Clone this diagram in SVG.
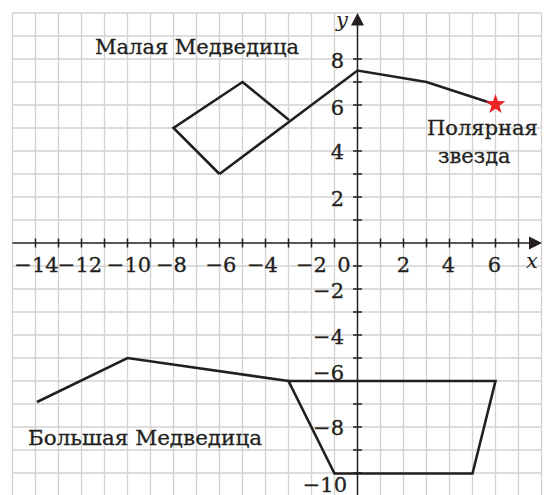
<svg xmlns="http://www.w3.org/2000/svg" width="544" height="495" viewBox="0 0 544 495">
<style>
.grid{stroke:#d2d2d2;stroke-width:1.3;fill:none}
.axis{stroke:#231f20;stroke-width:1.5;fill:none}
.shape{stroke:#231f20;stroke-width:2.6;fill:none;stroke-linejoin:miter;stroke-linecap:butt}
.t,.n,.ny{font-family:"DejaVu Serif","Liberation Serif",serif;font-size:21px;fill:#231f20;stroke:#231f20;stroke-width:0.3}
.n{text-anchor:middle}
.ny{text-anchor:end}
.it{font-family:"DejaVu Serif","Liberation Serif",serif;font-size:21px;font-style:italic;fill:#231f20}
</style>
<rect width="544" height="495" fill="#ffffff"/>
<g id="grid">
<path class="grid" d="M12.5,13V495M35.5,13V495M58.5,13V495M81.5,13V495M104.5,13V495M127.5,13V495M150.5,13V495M173.5,13V495M196.5,13V495M219.5,13V495M242.5,13V495M265.5,13V495M288.5,13V495M311.5,13V495M334.5,13V495M380.5,13V495M403.5,13V495M426.5,13V495M449.5,13V495M472.5,13V495M495.5,13V495M518.5,13V495M541.5,13V495"/>
<path class="grid" d="M12.5,13H541.5M12.5,36H541.5M12.5,59H541.5M12.5,82H541.5M12.5,105H541.5M12.5,128H541.5M12.5,151H541.5M12.5,174H541.5M12.5,197H541.5M12.5,220H541.5M12.5,266H541.5M12.5,289H541.5M12.5,312H541.5M12.5,335H541.5M12.5,358H541.5M12.5,381H541.5M12.5,404H541.5M12.5,427H541.5M12.5,450H541.5M12.5,473H541.5"/>
</g>
<g id="axes">
<path class="axis" d="M12.5,243H531M357.5,495V24"/>
<path fill="#231f20" d="M542,243L529,236.5V249.5Z"/>
<path fill="#231f20" d="M357.5,13L351,25.5H364Z"/>
<path class="axis" d="M35.5,238.5V247.5M58.5,238.5V247.5M81.5,238.5V247.5M104.5,238.5V247.5M127.5,238.5V247.5M150.5,238.5V247.5M173.5,238.5V247.5M196.5,238.5V247.5M219.5,238.5V247.5M242.5,238.5V247.5M265.5,238.5V247.5M288.5,238.5V247.5M311.5,238.5V247.5M334.5,238.5V247.5M380.5,238.5V247.5M403.5,238.5V247.5M426.5,238.5V247.5M449.5,238.5V247.5M472.5,238.5V247.5M495.5,238.5V247.5M518.5,238.5V247.5"/>
<path class="axis" d="M353,59H362M353,82H362M353,105H362M353,128H362M353,151H362M353,174H362M353,197H362M353,220H362M353,266H362M353,289H362M353,312H362M353,335H362M353,358H362M353,381H362M353,404H362M353,427H362M353,450H362M353,473H362"/>
<text class="it" x="336" y="27">y</text>
<text class="it" x="526" y="268">x</text>
</g>
<g id="x-labels">
<text class="n" x="36.5" y="272">−14</text>
<text class="n" x="80" y="272">−12</text>
<text class="n" x="129" y="272">−10</text>
<text class="n" x="171.5" y="272">−8</text>
<text class="n" x="221" y="272">−6</text>
<text class="n" x="262.5" y="272">−4</text>
<text class="n" x="311.5" y="272">−2</text>
<text class="n" x="344" y="272">0</text>
<text class="n" x="403.5" y="272">2</text>
<text class="n" x="448.5" y="272">4</text>
<text class="n" x="494.5" y="272">6</text>
</g>
<g id="y-labels">
<text class="ny" x="344" y="68">8</text>
<text class="ny" x="344" y="114.5">6</text>
<text class="ny" x="344" y="159">4</text>
<text class="ny" x="344" y="206">2</text>
<text class="ny" x="344" y="298">−2</text>
<text class="ny" x="344" y="344">−4</text>
<text class="ny" x="344" y="380">−6</text>
<text class="ny" x="344" y="435">−8</text>
<text class="ny" x="347" y="492">−10</text>
</g>
<g id="malaya-medveditsa">
<path class="shape" d="M219.5,174L173.5,128L242.5,82L289,120"/>
<path class="shape" d="M219.5,174L357.5,70.5L426.5,82L495.5,104.5"/>
<text class="t" x="95" y="53.5" textLength="204" lengthAdjust="spacingAndGlyphs">Малая Медведица</text>
</g>
<g id="polar-star">
<polygon fill="#ee2328" points="495.5,94 497.97,101.1 505.49,101.26 499.49,105.8 501.67,113 495.5,108.7 489.33,113 491.51,105.8 485.51,101.26 493.03,101.1"/>
<text class="t" x="427" y="135">Полярная</text>
<text class="t" x="438" y="163">звезда</text>
</g>
<g id="bolshaya-medveditsa">
<path class="shape" d="M37,402L127.5,358L288.5,381"/>
<path class="shape" d="M288.5,381L495.5,381L472.5,473.5L334.5,473.5Z"/>
<text class="t" x="28" y="445" textLength="234" lengthAdjust="spacingAndGlyphs">Большая Медведица</text>
</g>
</svg>
